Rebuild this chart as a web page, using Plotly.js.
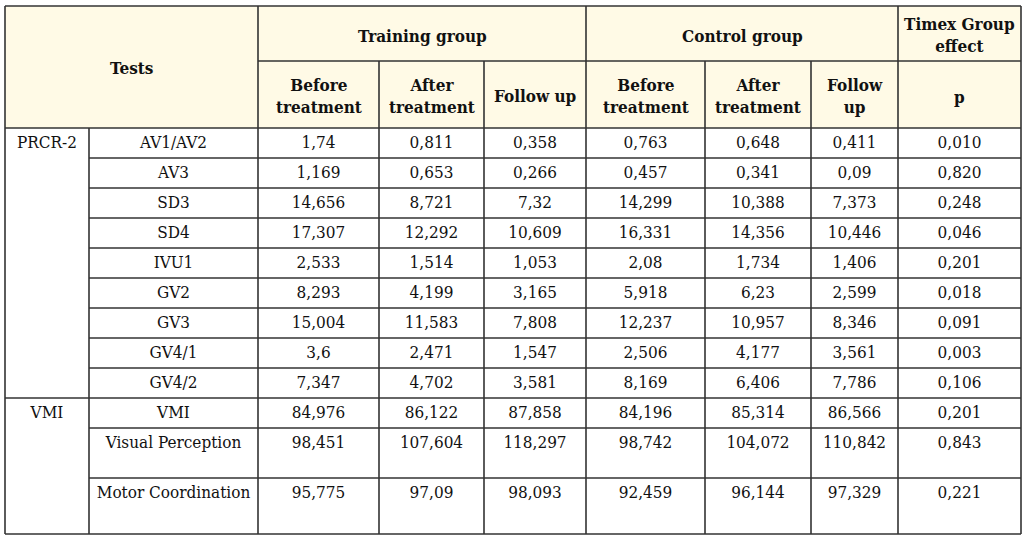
<!DOCTYPE html>
<html>
<head>
<meta charset="utf-8">
<script src="https://cdn.plot.ly/plotly-3.0.1.min.js"></script>
<style>html,body{margin:0;padding:0;background:#fff;}#chart{width:1026px;height:539px;}</style>
</head>
<body>
<div id="chart"></div>
<script>
// ---- data ----
const groups = ['PRCR-2', 'VMI'];
const groupSizes = [9, 3];
const tests = ['AV1/AV2','AV3','SD3','SD4','IVU1','GV2','GV3','GV4/1','GV4/2','VMI','Visual Perception','Motor Coordination'];
const trainingBefore = ['1,74','1,169','14,656','17,307','2,533','8,293','15,004','3,6','7,347','84,976','98,451','95,775'];
const trainingAfter  = ['0,811','0,653','8,721','12,292','1,514','4,199','11,583','2,471','4,702','86,122','107,604','97,09'];
const trainingFollow = ['0,358','0,266','7,32','10,609','1,053','3,165','7,808','1,547','3,581','87,858','118,297','98,093'];
const controlBefore  = ['0,763','0,457','14,299','16,331','2,08','5,918','12,237','2,506','8,169','84,196','98,742','92,459'];
const controlAfter   = ['0,648','0,341','10,388','14,356','1,734','6,23','10,957','4,177','6,406','85,314','104,072','96,144'];
const controlFollow  = ['0,411','0,09','7,373','10,446','1,406','2,599','8,346','3,561','7,786','86,566','110,842','97,329'];
const pValues        = ['0,010','0,820','0,248','0,046','0,201','0,018','0,091','0,003','0,106','0,201','0,843','0,221'];
const groupHeaders = ['Training group', 'Control group'];
const subHeaders = ['Before<br>treatment','After<br>treatment','Follow up','Before<br>treatment','After<br>treatment','Follow<br>up'];
const effectHeader = 'Timex Group<br>effect';
const effectSub = 'p';
const testsHeader = 'Tests';

// ---- layout geometry ----
const colEdges = [5, 89, 258, 379, 484, 586, 705, 811, 898, 1021];
const topY = 6, midY = 61, headY = 128;
const rowHeights = [30,30,30,30,30,30,30,30,30,30,50,56];
const rowTops = [];
{ let y = headY; rowHeights.forEach(h => { rowTops.push(y); y += h; }); rowTops.push(y); }
const bottomY = rowTops[rowTops.length - 1];
const textOffset = 16;

const lineColor = '#333333';
const headerFill = '#fffae6';
const textColor = '#111111';
const fam = '"DejaVu Serif Condensed", "DejaVu Serif", serif';
const fontBody = {family: fam, size: 17, color: textColor};
const fontBold = {family: fam, size: 17, color: textColor, weight: 'bold'};

const cx = i => (colEdges[i] + colEdges[i + 1]) / 2;
const textY = rowTops.slice(0, tests.length).map(t => t + textOffset);

const traces = [];
const cols = [tests, trainingBefore, trainingAfter, trainingFollow, controlBefore, controlAfter, controlFollow, pValues];
cols.forEach((arr, k) => {
  traces.push({
    type: 'scatter', mode: 'text',
    x: arr.map(() => cx(k + 1)), y: textY,
    text: arr, textposition: 'middle center',
    textfont: fontBody, hoverinfo: 'skip', showlegend: false, cliponaxis: false
  });
});
// group labels (first column)
let gi = 0; const gY = [];
groupSizes.forEach(n => { gY.push(rowTops[gi] + textOffset); gi += n; });
traces.push({
  type: 'scatter', mode: 'text', x: groups.map(() => cx(0)), y: gY,
  text: groups, textposition: 'middle center', textfont: fontBody,
  hoverinfo: 'skip', showlegend: false, cliponaxis: false
});

// ---- shapes ----
const shapes = [];
const line = (x0, y0, x1, y1) => shapes.push({type: 'line', xref: 'x', yref: 'y', x0, y0, x1, y1, line: {color: lineColor, width: 1.6}});
shapes.push({type: 'rect', xref: 'x', yref: 'y', x0: colEdges[0], x1: colEdges[9], y0: topY, y1: headY, fillcolor: headerFill, line: {width: 0}, layer: 'below'});
line(colEdges[0], topY, colEdges[9], topY);
line(colEdges[0], bottomY, colEdges[9], bottomY);
line(colEdges[0], topY, colEdges[0], bottomY);
line(colEdges[9], topY, colEdges[9], bottomY);
line(colEdges[2], midY, colEdges[9], midY);
line(colEdges[0], headY, colEdges[9], headY);
line(colEdges[1], headY, colEdges[1], bottomY);
[2, 5, 8].forEach(i => line(colEdges[i], topY, colEdges[i], bottomY));
[3, 4, 6, 7].forEach(i => line(colEdges[i], midY, colEdges[i], bottomY));
let cum = 0; const groupStarts = new Set();
groupSizes.forEach(n => { groupStarts.add(cum); cum += n; });
for (let r = 1; r < tests.length; r++) {
  const x0 = groupStarts.has(r) ? colEdges[0] : colEdges[1];
  line(x0, rowTops[r], colEdges[9], rowTops[r]);
}

// ---- header annotations ----
const annotations = [];
const ann = (x, y, text) => annotations.push({x, y, xref: 'x', yref: 'y', text, showarrow: false, font: fontBold, xanchor: 'center', yanchor: 'middle'});
ann((colEdges[0] + colEdges[2]) / 2, 68, testsHeader);
ann((colEdges[2] + colEdges[5]) / 2, 36, groupHeaders[0]);
ann((colEdges[5] + colEdges[8]) / 2, 36, groupHeaders[1]);
ann(cx(8), 35, effectHeader);
subHeaders.forEach((t, i) => ann(cx(i + 2), 96, t));
ann(cx(8), 97, effectSub);

const layout = {
  width: 1026, height: 539,
  margin: {l: 0, r: 0, t: 0, b: 0},
  paper_bgcolor: '#ffffff', plot_bgcolor: '#ffffff',
  xaxis: {range: [0, 1026], visible: false, fixedrange: true},
  yaxis: {range: [539, 0], visible: false, fixedrange: true},
  shapes, annotations, showlegend: false
};
Plotly.newPlot('chart', traces, layout, {staticPlot: true, displayModeBar: false});
</script>
</body>
</html>
